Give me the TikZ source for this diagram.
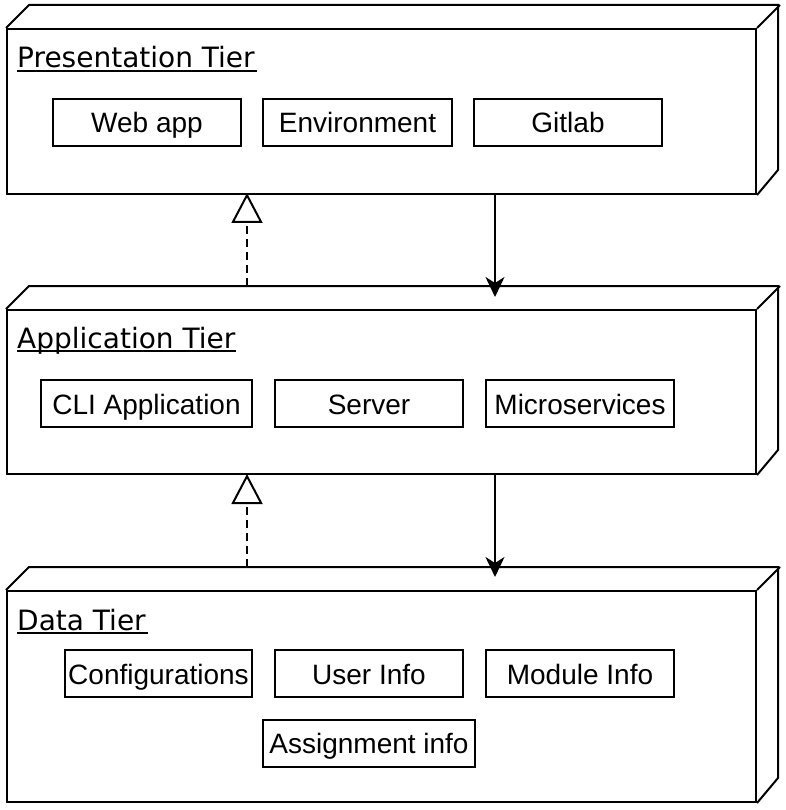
\documentclass[tikz,border=0pt]{standalone}
\usepackage{fontspec}
\setmainfont{Liberation Sans}
\newfontfamily\titlefont{DejaVu Sans}
\usetikzlibrary{arrows.meta}
\begin{document}
\begin{tikzpicture}[x=1pt,y=-1pt,
  tierline/.style={draw=black, line width=2pt, line join=miter},
  tierfront/.style={tierline, fill=white, rectangle, inner sep=0pt, minimum width=749, anchor=north west},
  itembox/.style={draw=black, line width=2pt, fill=white, rectangle, inner sep=0pt, minimum height=47,
    text height=27pt, text depth=6pt, font=\fontsize{28}{32}\selectfont},
  tiertitle/.style={anchor=base west, inner sep=0pt, font=\titlefont\fontsize{28}{32}\selectfont},
  realize/.style={line width=2pt, dash pattern=on 8pt off 5pt, -{Triangle[open, length=30pt, width=31pt, line width=2pt]}},
  flow/.style={line width=2pt, -{Stealth[length=20pt, width=19pt, inset=6pt]}}
]
\useasboundingbox[fill=white] (0,0) rectangle (785,810);

% ---------- Presentation tier ----------
\node[tierfront, minimum height=165] (pres) at (6,28) {};
\draw[tierline] (pres.north west) -- ++(23,-23) -- ++(749,0) -- ++(0,165) -- (pres.south east);
\draw[tierline] (pres.north east) -- ++(23,-23);
\node[tiertitle] (prest) at (17,68) {Presentation Tier};
\draw[line width=2pt] (prest.base west) ++(0,3) -- ++(240,0);
\node[itembox, minimum width=188] (web) at (147,122.5) {Web app};
\node[itembox, minimum width=189] (env) at (357.5,122.5) {Environment};
\node[itembox, minimum width=188] (git) at (568,122.5) {Gitlab};

% ---------- Application tier ----------
\node[tierfront, minimum height=164] (app) at (6,309) {};
\draw[tierline] (app.north west) -- ++(23,-23) -- ++(749,0) -- ++(0,164) -- (app.south east);
\draw[tierline] (app.north east) -- ++(23,-23);
\node[tiertitle] (appt) at (17,348) {Application Tier};
\draw[line width=2pt] (appt.base west) ++(0,3) -- ++(219,0);
\node[itembox, minimum width=211] (cli) at (146.5,403.5) {CLI Application};
\node[itembox, minimum width=188] (srv) at (369,403.5) {Server};
\node[itembox, minimum width=188] (mic) at (580,403.5) {Microservices};

% ---------- Data tier ----------
\node[tierfront, minimum height=211] (data) at (6,590) {};
\draw[tierline] (data.north west) -- ++(23,-23) -- ++(749,0) -- ++(0,211) -- (data.south east);
\draw[tierline] (data.north east) -- ++(23,-23);
\node[tiertitle] (datat) at (17,630) {Data Tier};
\draw[line width=2pt] (datat.base west) ++(0,3) -- ++(131,0);
\node[itembox, minimum width=187] (cfg) at (158.5,673.5) {Configurations};
\node[itembox, minimum width=188] (usr) at (369,673.5) {User Info};
\node[itembox, minimum width=188] (mod) at (580,673.5) {Module Info};
\node[itembox, minimum width=212] (asg) at (369,743) {Assignment info};

% ---------- connectors ----------
\coordinate (r1s) at (247,286);
\coordinate (r1e) at (247,193);
\coordinate (f1s) at (495,194);
\coordinate (f1e) at (495,297);
\coordinate (r2s) at (247,567);
\coordinate (r2e) at (247,474);
\coordinate (f2s) at (495,474);
\coordinate (f2e) at (495,577);
\draw[realize] (r1s) -- (r1e);
\draw[flow] (f1s) -- (f1e);
\draw[realize] (r2s) -- (r2e);
\draw[flow] (f2s) -- (f2e);
\end{tikzpicture}
\end{document}
